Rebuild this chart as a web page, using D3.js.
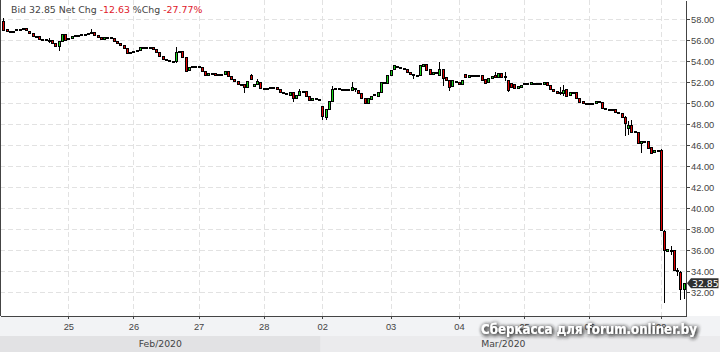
<!DOCTYPE html>
<html>
<head>
<meta charset="utf-8">
<title>Bid 32.85</title>
<script src="https://cdn.jsdelivr.net/npm/d3@7"></script>
<style>
	body{margin:0;background:#fff;}
	svg{display:block;font-family:"DejaVu Sans",sans-serif;}
	.axis text{font-size:9.3px;fill:#444;}
	.axis path,
	.axis line{stroke:#444;shape-rendering:crispEdges;}
	.grid line{stroke:#e2e2e2;stroke-dasharray:5,3;shape-rendering:crispEdges;}
</style>
</head>
<body>
<script>
	// 30 min bars, [open, close, high, low] (high/low left out when the wick is inside the body)
	var feb24 = [
		[57.85,57.0,58.1,56.95],[57.1,56.85],[56.78,56.87],[56.88,56.9],[56.95,57.05],
		[57.08,57.1],[57.12,57.15],[57.15,56.95],[56.9,56.7],[56.7,56.4],
		[56.4,56.38],[56.4,56.15],[56.15,56.12],[56.1,56.05],[56.02,56.0,56.2,55.8],
		[56.0,55.75],[55.75,55.45],[55.45,55.95,55.95,55.1],[55.95,56.6],[56.57,56.05]
	];
	var feb25 = [
		[56.1,56.2],[56.2,56.4],[56.4,56.5],[56.5,56.55],[56.5,56.6],
		[56.6,56.62],[56.62,56.7],[56.7,56.75,57.05,56.7],[56.8,56.55],[56.55,56.35],
		[56.35,56.15],[56.15,56.3],[56.35,56.3],[56.3,56.2],[56.2,55.9],
		[55.9,55.7],[55.7,55.6],[55.6,55.25],[55.25,54.8],[54.8,54.85]
	];
	var feb26 = [
		[54.9,55.0],[55.0,55.05],[55.05,55.35],[55.35,55.36],[55.36,55.38],
		[55.36,55.35],[55.35,55.15],[55.15,54.85],[54.85,54.55],[54.55,54.2],
		[54.2,54.1],[54.1,54.0],[54.0,53.95],[54.05,54.85,55.35,53.95],[54.85,54.95],
		[54.95,54.4],[54.4,53.1],[53.2,53.45],[53.5,53.55],[53.55,53.6]
	];
	var feb27 = [
		[53.6,53.45],[53.45,53.1],[53.1,52.7],[52.7,52.85],[52.85,52.8],
		[52.85,52.7],[52.75,52.75],[52.75,52.76],[52.75,53.05],[53.05,52.6],
		[52.6,52.3],[52.3,52.1],[52.1,51.85],[51.85,51.8],[51.8,51.55,51.85,51.1],
		[51.6,52.1],[52.65,52.3,52.8,52.3],[51.65,51.85],[51.85,52.1,52.35,51.8],[52.0,51.45]
	];
	var feb28 = [
		[51.45,51.5],[51.5,51.5],[51.45,51.6],[51.6,51.55],[51.55,51.35],
		[51.35,51.1],[51.1,51.0],[51.0,50.85],[50.8,51.05],[51.1,50.5,51.1,50.2],
		[50.5,50.75],[50.75,51.2,51.4,50.75],[51.2,51.1],[51.15,50.65],[50.65,50.3],
		[50.3,50.5],[50.5,50.5],[50.45,50.4]
	];
	var mar02 = [
		[49.75,48.75,49.75,48.5],[48.7,49.45,49.45,48.55],[49.45,50.25],[50.25,51.4,51.65,50.25],[51.4,51.42],
		[51.42,51.38],[51.4,51.3],[51.35,51.36],[51.4,51.25],[51.3,51.55,52.05,51.3],
		[51.5,51.4,51.5,51.2],[51.3,50.95],[50.95,50.5],[50.55,50.0],[50.0,50.5],
		[50.45,50.7],[50.75,50.85],[50.7,51.1],[51.1,52.05],[52.05,52.05],[51.95,52.7]
	];
	var mar03 = [
		[52.7,53.2],[53.25,53.65],[53.6,53.45],[53.45,53.4],[53.4,53.25],
		[53.25,52.95],[52.95,52.75],[52.75,52.7,52.75,52.4],[52.7,52.72],[52.7,53.65],
		[53.55,53.75],[53.75,53.2],[53.3,52.75],[52.75,52.95],[52.95,52.9],
		[52.7,53.3,53.95,52.7],[53.3,52.4,53.3,51.75],[52.5,52.2],[52.25,51.55,52.25,51.3],[51.65,52.2],[52.05,52.1]
	];
	var mar04 = [
		[52.0,51.8],[51.85,52.25],[52.8,52.55],[52.55,52.7],[52.7,52.7],
		[52.7,52.72],[52.72,52.7],[52.65,52.2],[52.3,51.95],[52.0,52.4],
		[52.4,52.6],[52.7,52.55,52.95,52.5],[52.55,52.85],[52.85,52.5],[52.6,52.55,52.95,52.2],
		[52.25,51.3,52.25,51.2],[51.95,51.6],[51.8,51.5],[51.5,51.65],[51.6,51.7]
	];
	var mar05 = [
		[51.95,51.9],[51.9,51.95],[51.85,52.05],[51.95,51.95],[51.95,51.9],
		[51.9,51.95],[51.85,52.05],[52.0,51.75],[51.75,51.4],[51.4,51.2],
		[51.2,50.95],[51.0,51.05,51.6,50.9],[51.0,51.3,51.7,50.75],[51.35,50.7],[50.75,51.05],
		[51.05,51.0],[51.1,50.5],[50.5,50.15],[50.2,50.05],[50.05,50.0]
	];
	var mar06 = [
		[50.05,50.0],[50.0,50.05],[50.0,50.25],[50.2,50.15],[50.15,49.55],
		[49.55,49.45],[49.45,49.45],[49.45,49.5],[49.5,49.2],[49.2,49.05],
		[49.1,48.7],[48.7,48.15,48.75,47.0],[47.65,47.95,48.35,47.1],[47.95,47.3,48.45,47.3],[47.4,47.3],
		[47.3,46.2],[46.2,46.45,46.45,45.35],[46.45,46.4],[46.45,45.75],[45.8,45.3],
		[45.35,45.55],[45.55,45.5]
	];
	var mar09 = [
		[45.55,37.9,45.6,37.9],[37.8,36.05,37.9,31.05],[35.95,36.1],[36.05,36.0,36.45,35.6],
		[36.0,34.1],[34.1,34.0,34.3,33.6],[33.9,32.35,34.0,31.35],[32.35,32.85,32.9,31.5]
	];

	var dayBars = [feb24, feb25, feb26, feb27, feb28, mar02, mar03, mar04, mar05, mar06, mar09];
	var dayLabels = ["24","25","26","27","28","02","03","04","05","06","09"];
	var monthLabels = ["Feb/2020","Mar/2020"];
	var monthStartDay = [0, 5];
	var priceTicks = [32,34,36,38,40,42,44,46,48,50,52,54,56,58];
	var lastPrice = 32.85;
	var netChg = "-12.63";
	var pctChg = "-27.77%";
	var watermark = "Сберкасса для forum.onliner.by";

	var width = 720, height = 352;
	var plotW = 686, plotH = 316;

	// flatten bars
	var bars = [];
	var dayStart = [];
	dayBars.forEach(function(day, di){
		dayStart.push(bars.length);
		day.forEach(function(b){
			bars.push({i:bars.length, o:b[0], c:b[1],
				h:b.length > 2 ? b[2] : Math.max(b[0], b[1]),
				l:b.length > 3 ? b[3] : Math.min(b[0], b[1])});
		});
	});

	var x = d3.scaleLinear().domain([-1, bars.length - 0.25]).range([0, plotW]);
	var y = d3.scaleLinear().domain([29.74, 59.84]).range([plotH, 0]);

	var svg = d3.select("body").append("svg")
		.attr("width", width)
		.attr("height", height);

	var defs = svg.append("defs");
	defs.append("clipPath").attr("id","clip")
		.append("rect").attr("x",0).attr("y",0).attr("width",plotW).attr("height",plotH);
	var glow = defs.append("filter").attr("id","glow")
		.attr("x","-5%").attr("y","-60%").attr("width","112%").attr("height","220%");
	glow.append("feGaussianBlur").attr("in","SourceAlpha").attr("stdDeviation",2).attr("result","b");
	glow.append("feOffset").attr("in","b").attr("dx",0.5).attr("dy",1).attr("result","bo");
	glow.append("feFlood").attr("flood-color","#2a2a2a");
	glow.append("feComposite").attr("in2","bo").attr("operator","in").attr("result","s");
	var merge = glow.append("feMerge");
	merge.append("feMergeNode").attr("in","s");
	merge.append("feMergeNode").attr("in","s");
	merge.append("feMergeNode").attr("in","SourceGraphic");

	// bottom bands
	svg.append("rect").attr("x",0).attr("y",plotH).attr("width",width).attr("height",height-plotH)
		.attr("fill","#f2f3f5");
	var monthEdges = monthStartDay.map(function(d){ return d == 0 ? 0 : x(dayStart[d] - 0.5); });
	monthEdges.push(width);
	svg.selectAll(".monthBand")
		.data(monthLabels)
		.enter()
		.append("rect")
		.attr("x", function(d,i){ return monthEdges[i]; })
		.attr("y", 336)
		.attr("width", function(d,i){ return monthEdges[i+1] - monthEdges[i]; })
		.attr("height", height - 336)
		.attr("fill", function(d,i){ return i % 2 ? "#ebebed" : "#e2e2e4"; });
	svg.selectAll(".monthText")
		.data(monthLabels)
		.enter()
		.append("text")
		.attr("x", function(d,i){ return (monthEdges[i] + Math.min(monthEdges[i+1], plotW)) / 2; })
		.attr("y", 346.5)
		.attr("text-anchor","middle")
		.attr("font-size","9.3px")
		.attr("fill","#444")
		.text(function(d){ return d; });

	// grid
	var tickIdx = dayStart.slice(1);
	var grid = svg.append("g").attr("class","grid");
	grid.selectAll(".hg")
		.data(priceTicks)
		.enter()
		.append("line")
		.attr("x1",0).attr("x2",plotW)
		.attr("y1",function(d){ return Math.round(y(d)) + 0.5; })
		.attr("y2",function(d){ return Math.round(y(d)) + 0.5; });
	grid.selectAll(".vg")
		.data(tickIdx)
		.enter()
		.append("line")
		.attr("y1",0).attr("y2",plotH)
		.attr("x1",function(d){ return Math.round(x(d)) + 0.5; })
		.attr("x2",function(d){ return Math.round(x(d)) + 0.5; });

	// candles
	var cg = svg.append("g").attr("clip-path","url(#clip)").attr("shape-rendering","crispEdges");
	cg.selectAll(".wick")
		.data(bars)
		.enter()
		.append("line")
		.attr("x1",function(d){ return Math.round(x(d.i)) + 0.5; })
		.attr("x2",function(d){ return Math.round(x(d.i)) + 0.5; })
		.attr("y1",function(d){ return Math.round(y(d.h)); })
		.attr("y2",function(d){ return Math.round(y(d.l)) + 1; })
		.attr("stroke","#000");
	cg.selectAll(".body")
		.data(bars)
		.enter()
		.append("rect")
		.attr("x",function(d){ return Math.round(x(d.i)) - 0.5; })
		.attr("y",function(d){ return Math.round(y(Math.max(d.o, d.c))) + 0.5; })
		.attr("width",2)
		.attr("height",function(d){
			return Math.max(Math.round(y(Math.min(d.o, d.c))) - Math.round(y(Math.max(d.o, d.c))), 1);
		})
		.attr("fill",function(d){ return d.c > d.o ? "#16d416" : (d.c < d.o ? "#e00000" : "#000"); })
		.attr("stroke","#000");

	// axes
	svg.append("line").attr("x1",0.5).attr("x2",0.5).attr("y1",0).attr("y2",plotH)
		.attr("stroke","#444");
	svg.append("g")
		.attr("class","axis")
		.attr("transform","translate(" + plotW + ",0)")
		.call(d3.axisRight(y).tickValues(priceTicks).tickFormat(d3.format(".2f")).tickSize(4).tickSizeOuter(0).tickPadding(1))
		.selectAll("text").attr("dy","0.35em");
	svg.append("g")
		.attr("class","axis")
		.attr("transform","translate(0," + plotH + ")")
		.call(d3.axisBottom(x).tickValues(tickIdx)
			.tickFormat(function(d){ return dayLabels[dayStart.indexOf(d)]; })
			.tickSize(3).tickSizeOuter(0).tickPadding(4));

	// last price tag
	var py = y(lastPrice);
	var tag = svg.append("g");
	tag.append("path")
		.attr("d","M" + (plotW + 1) + "," + py + "L" + (plotW + 5) + "," + (py - 5) + "H" + (width - 1.5) + "V" + (py + 5) + "H" + (plotW + 5) + "Z")
		.attr("fill","#2f2f2f");
	tag.append("text")
		.attr("x", plotW + 6)
		.attr("y", py + 3.5)
		.attr("font-size","9.3px")
		.attr("fill","#fff")
		.text(d3.format(".2f")(lastPrice));

	// header
	var head = svg.append("text")
		.attr("x",11)
		.attr("y",13)
		.attr("font-size","9.4px")
		.attr("fill","#444");
	head.append("tspan").text("Bid " + d3.format(".2f")(lastPrice) + " Net Chg ");
	head.append("tspan").attr("fill","#e0202a").text(netChg);
	head.append("tspan").text(" %Chg ");
	head.append("tspan").attr("fill","#e0202a").text(pctChg);

	// watermark
	svg.append("text")
		.attr("x",481)
		.attr("y",334)
		.attr("font-family","'DejaVu Sans',sans-serif")
		.attr("font-weight","bold")
		.attr("font-size","14.5px")
		.attr("textLength",216)
		.attr("lengthAdjust","spacingAndGlyphs")
		.attr("fill","#fff")
		.attr("filter","url(#glow)")
		.text(watermark);
</script>
</body>
</html>
